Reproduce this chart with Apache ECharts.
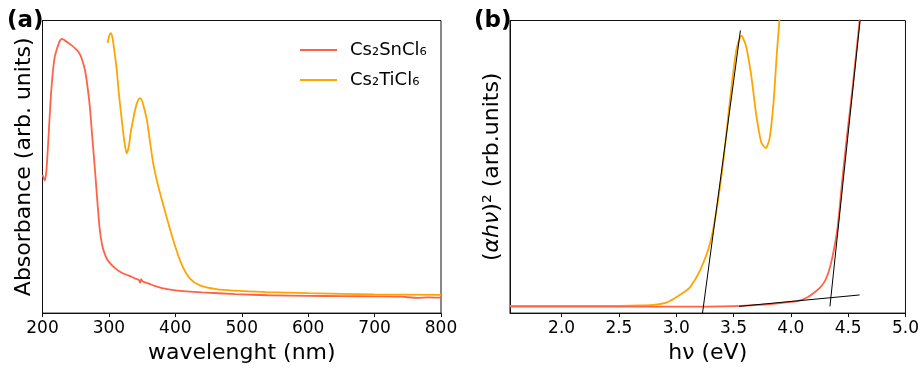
<!DOCTYPE html>
<html>
<head>
<meta charset="utf-8">
<script src="https://cdn.jsdelivr.net/npm/echarts@6/dist/echarts.min.js"></script>
<style>
  html, body { margin: 0; padding: 0; background: #fff; }
  #chart { width: 922px; height: 369px; }
</style>
</head>
<body>
<div id="chart"></div>
<script>
// panel (a): absorbance vs wavelength (arb. units, 0..1)
const snWl  = [200, 203.5, 206, 209, 212, 215, 218, 222, 226, 229, 233, 238, 244, 250, 255, 259, 264, 268, 271.5, 275, 279, 282, 286, 290, 295, 300, 310, 320, 330, 340, 345, 347, 348.5, 351, 360, 370, 380, 400, 440, 490, 540, 600, 650, 700, 740, 765, 780, 800];
const snAbs = [0.473, 0.453, 0.49, 0.60, 0.72, 0.81, 0.87, 0.905, 0.93, 0.937, 0.933, 0.925, 0.915, 0.903, 0.89, 0.87, 0.83, 0.77, 0.70, 0.60, 0.49, 0.40, 0.29, 0.23, 0.195, 0.175, 0.152, 0.137, 0.128, 0.118, 0.113, 0.104, 0.116, 0.108, 0.101, 0.092, 0.085, 0.078, 0.071, 0.065, 0.061, 0.059, 0.058, 0.057, 0.056, 0.052, 0.054, 0.053];

const tiWl  = [298, 300.5, 302.7, 305, 308, 311.7, 315, 319.2, 323, 326.8, 330, 333, 336.7, 340, 343.5, 346.8, 350, 353, 356.9, 361, 366.8, 372, 377, 387, 397, 409, 422, 437, 462, 487, 537, 600, 700, 800];
const tiAbs = [0.923, 0.948, 0.957, 0.945, 0.90, 0.833, 0.75, 0.664, 0.59, 0.546, 0.57, 0.62, 0.664, 0.70, 0.725, 0.735, 0.725, 0.70, 0.664, 0.60, 0.51, 0.455, 0.41, 0.327, 0.248, 0.169, 0.118, 0.095, 0.082, 0.077, 0.072, 0.068, 0.064, 0.062];

// panel (b): Tauc plot (arb. units, 0..1)
const snE    = [1.55, 2.5, 3.0, 3.5, 3.8, 4.0, 4.075, 4.15, 4.21, 4.25, 4.29, 4.32, 4.35, 4.38, 4.41, 4.45, 4.49, 4.54, 4.60, 4.62];
const snTauc = [0.022, 0.022, 0.022, 0.024, 0.030, 0.038, 0.043, 0.055, 0.072, 0.085, 0.105, 0.13, 0.17, 0.225, 0.30, 0.46, 0.607, 0.776, 1.0, 1.06];

const tiE    = [1.55, 2.5, 2.7, 2.8, 2.92, 3.0, 3.07, 3.12, 3.207, 3.293, 3.35, 3.41, 3.467, 3.525, 3.569, 3.61, 3.655, 3.699, 3.742, 3.78, 3.814, 3.849, 3.878, 3.90, 3.91];
const tiTauc = [0.025, 0.025, 0.026, 0.028, 0.037, 0.054, 0.072, 0.088, 0.145, 0.235, 0.348, 0.517, 0.72, 0.90, 0.948, 0.911, 0.81, 0.675, 0.584, 0.564, 0.596, 0.72, 0.889, 1.0, 1.06];

// fitted lines for the band gap
const fitTi   = [[3.227, -0.007], [3.56, 0.966]];
const fitSn   = [[4.341, 0.023], [4.604, 1.0]];
const fitBase = [[3.548, 0.023], [4.60, 0.062]];

const eTicks = [2.0, 2.5, 3.0, 3.5, 4.0, 4.5, 5.0];

const RED = '#ff6347';
const ORANGE = '#ffa500';
const FONT = 'DejaVu Sans';

const zip = (xs, ys) => xs.map((x, i) => [x, ys[i]]);

const chart = echarts.init(document.getElementById('chart'), null, { renderer: 'canvas' });

const frame = { show: true, borderColor: '#111', borderWidth: 1, backgroundColor: 'transparent' };
const tickLbl = { color: '#000', fontFamily: FONT, fontSize: 17, margin: 7 };
const nameStyle = { color: '#000', fontFamily: FONT, fontSize: 22 };

// data curve helper
const curve = (name, xi, xs, ys, color) => ({
  name, type: 'line', xAxisIndex: xi, yAxisIndex: xi,
  data: zip(xs, ys), showSymbol: false, smooth: 0.25,
  lineStyle: { color, width: 1.8 }, itemStyle: { color }
});
const fit = (name, data) => ({
  name, type: 'line', xAxisIndex: 1, yAxisIndex: 1, data,
  showSymbol: false, lineStyle: { color: '#000', width: 1 }, itemStyle: { color: '#000' }
});

const option = {
  animation: false,
  textStyle: { fontFamily: FONT },
  grid: [
    Object.assign({ left: 42.5, top: 20.5, width: 398.5, height: 296 }, frame),
    Object.assign({ left: 510, top: 20.5, width: 396.5, height: 295.5 }, frame)
  ],
  xAxis: [
    {
      gridIndex: 0, type: 'value', min: 200, max: 800, interval: 100,
      name: 'wavelenght (nm)', nameLocation: 'middle', nameGap: 28, nameTextStyle: nameStyle,
      axisLine: { show: true, lineStyle: { color: '#111', width: 1 } },
      axisTick: { show: true, length: 4, lineStyle: { color: '#111', width: 1 } },
      axisLabel: tickLbl,
      splitLine: { show: false }
    },
    {
      gridIndex: 1, type: 'value', min: 1.55, max: 5.0,
      name: 'hν (eV)', nameLocation: 'middle', nameGap: 28, nameTextStyle: nameStyle,
      axisLine: { show: true, lineStyle: { color: '#111', width: 1 } },
      axisTick: { show: true, length: 4, customValues: eTicks, lineStyle: { color: '#111', width: 1 } },
      axisLabel: Object.assign({ customValues: eTicks, formatter: v => v.toFixed(1) }, tickLbl),
      splitLine: { show: false }
    }
  ],
  yAxis: [
    {
      gridIndex: 0, type: 'value', min: 0, max: 1,
      name: 'Absorbance (arb. units)', nameLocation: 'middle', nameGap: 7, nameTextStyle: nameStyle,
      axisLine: { show: true, lineStyle: { color: '#111', width: 1 } },
      axisTick: { show: false }, axisLabel: { show: false }, splitLine: { show: false }
    },
    {
      gridIndex: 1, type: 'value', min: 0, max: 1,
      name: '({i|αhν})² (arb.units)', nameLocation: 'middle', nameGap: 7,
      nameTextStyle: Object.assign({
        rich: { i: { fontFamily: FONT, fontSize: 22, fontStyle: 'italic', color: '#000' } }
      }, nameStyle),
      axisLine: { show: true, lineStyle: { color: '#111', width: 1 } },
      axisTick: { show: false }, axisLabel: { show: false }, splitLine: { show: false }
    }
  ],
  legend: {
    data: ['Cs₂SnCl₆', 'Cs₂TiCl₆'],
    orient: 'vertical', left: 295, top: 35,
    icon: 'rect', itemWidth: 37, itemHeight: 2, itemGap: 10,
    textStyle: { color: '#000', fontFamily: FONT, fontSize: 18, lineHeight: 20, padding: [0, 0, 0, 8] }
  },
  graphic: [
    { type: 'text', left: 7, top: 10, style: { text: '(a)', font: 'bold 23px "DejaVu Sans"', fill: '#000' } },
    { type: 'text', left: 474, top: 10, style: { text: '(b)', font: 'bold 23px "DejaVu Sans"', fill: '#000' } }
  ],
  series: [
    curve('Cs₂SnCl₆', 0, snWl, snAbs, RED),
    curve('Cs₂TiCl₆', 0, tiWl, tiAbs, ORANGE),
    curve('Cs₂TiCl₆', 1, tiE, tiTauc, ORANGE),
    curve('Cs₂SnCl₆', 1, snE, snTauc, RED),
    fit('fitTi', fitTi),
    fit('fitSn', fitSn),
    fit('fitBase', fitBase)
  ]
};

chart.setOption(option);
window.addEventListener('resize', () => chart.resize());
</script>
</body>
</html>
